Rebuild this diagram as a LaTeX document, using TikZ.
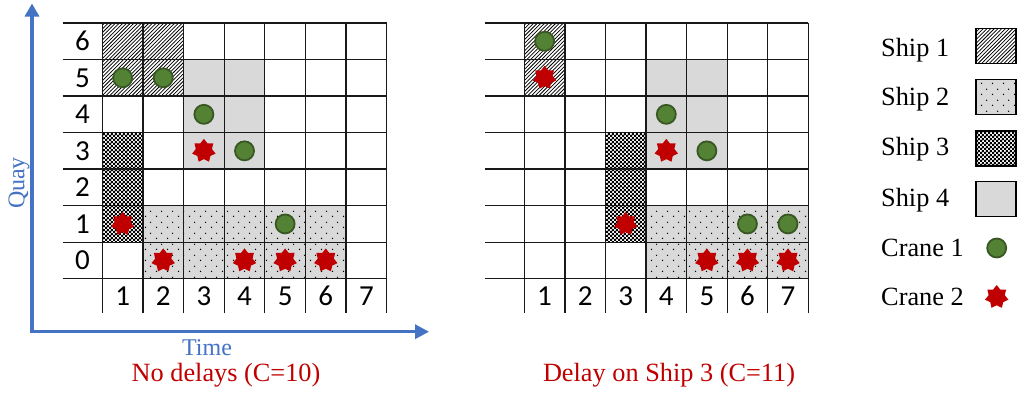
\documentclass[tikz,border=0pt]{standalone}
\usepackage{fontspec}
\setmainfont{Liberation Serif}
\newfontfamily\digitfont{Carlito}
\usetikzlibrary{patterns,arrows.meta,shapes.geometric}

\definecolor{axisblue}{HTML}{4472C4}
\definecolor{capred}{HTML}{C00000}
\definecolor{shipgray}{HTML}{D9D9D9}
\definecolor{cranegreen}{HTML}{548235}
\definecolor{cranegreendark}{HTML}{385723}
\definecolor{cranered}{HTML}{C00000}

% Ship 1: fine diagonal hatching
\pgfdeclarepatternformonly{hatchlines}{\pgfqpoint{-1pt}{-1pt}}{\pgfqpoint{4.8pt}{4.8pt}}{\pgfqpoint{3.7pt}{3.7pt}}{%
  \pgfsetlinewidth{0.75pt}%
  \pgfpathmoveto{\pgfqpoint{-0.1pt}{-0.1pt}}\pgfpathlineto{\pgfqpoint{3.8pt}{3.8pt}}\pgfusepath{stroke}}
% Ship 2: staggered dots
\pgfdeclarepatternformonly{shipdots}{\pgfqpoint{0pt}{0pt}}{\pgfqpoint{11pt}{11pt}}{\pgfqpoint{11pt}{11pt}}{%
  \pgfpathcircle{\pgfqpoint{2.75pt}{2.75pt}}{0.8pt}%
  \pgfpathcircle{\pgfqpoint{8.25pt}{8.25pt}}{0.8pt}\pgfusepath{fill}}
% Ship 3: small checkerboard
\pgfdeclarepatternformonly{checker}{\pgfqpoint{0pt}{0pt}}{\pgfqpoint{4.4pt}{4.4pt}}{\pgfqpoint{4.4pt}{4.4pt}}{%
  \pgfpathrectangle{\pgfqpoint{0pt}{0pt}}{\pgfqpoint{2.3pt}{2.3pt}}%
  \pgfpathrectangle{\pgfqpoint{2.2pt}{2.2pt}}{\pgfqpoint{2.3pt}{2.3pt}}\pgfusepath{fill}}

\tikzset{
  gridline/.style={line width=1.3pt, black!90},
  shipA/.style={fill=white, postaction={pattern=hatchlines}},
  shipB/.style={fill=shipgray, postaction={pattern=shipdots}},
  shipC/.style={fill=white, postaction={pattern=checker}},
  shipD/.style={fill=shipgray},
  craneA/.style={circle, fill=cranegreen, draw=cranegreendark, line width=1.8pt,
    minimum size=19pt, inner sep=0pt},
  craneB/.style={star, star points=7, star point ratio=1.45, fill=cranered,
    minimum size=24pt, inner sep=0pt},
  digit/.style={font=\digitfont\fontsize{29}{32}\selectfont, inner sep=0pt},
  axisline/.style={line width=3.2pt, axisblue, line join=miter,
    {Triangle[length=13pt,width=14pt]}-{Triangle[length=14pt,width=14pt]}},
  axislabel/.style={text=axisblue, font=\fontsize{24}{28}\selectfont, inner sep=0pt},
  caption/.style={text=capred, font=\fontsize{26.3}{30}\selectfont, inner sep=0pt},
  legtext/.style={font=\fontsize{26.3}{30}\selectfont, inner sep=0pt, anchor=base west},
  legbox/.style={draw=black, line width=1.4pt, minimum width=40pt, minimum height=35pt, inner sep=0pt},
}

\begin{document}
\begin{tikzpicture}[x=1pt, y=-1pt]
\useasboundingbox[fill=white] (0,0) rectangle (1017,394);

% ---- axes ----
\coordinate (origin) at (32,331.7);
\coordinate (quaytip) at (32,3.5);
\coordinate (timetip) at (429,331.7);
\draw[axisline] (quaytip) -- (origin) -- (timetip);
\node[axislabel, rotate=90] (quaylbl) at (19,183) {Quay};
\node[axislabel] (timelbl) at (207,347.5) {Time};

% ---- schedule without delays ----
\begin{scope}[shift={(102.3,23)}, x=40.63pt, y=-36.53pt]
  \path[shipA] (0,0) rectangle (2,2);
  \path[shipD] (2,1) rectangle (4,4);
  \path[shipC] (0,3) rectangle (1,6);
  \path[shipB] (1,5) rectangle (6,7);
  \foreach \k in {0,...,7} \draw[gridline] (-0.975,\k) -- (7,\k);
  \foreach \j in {0,...,7} \draw[gridline] (\j,0) -- (\j,7.93);
  \foreach \r in {0,...,6} \node[digit] (L-row\r) at (-0.4875,6.5-\r) {\r};
  \foreach \c in {1,...,7} \node[digit] (L-col\c) at (\c-0.5,7.47) {\c};
  \foreach \c/\r [count=\n] in {1/5,2/5,3/4,4/3,5/1}
    \node[craneA] (L-a\n) at (\c-0.5,6.5-\r) {};
  \foreach \c/\r [count=\n] in {3/3,1/1,2/0,4/0,5/0,6/0}
    \node[craneB] (L-b\n) at (\c-0.5,6.5-\r) {};
\end{scope}
\node[caption] (cap-left) at (226,375.5) {No delays (C=10)};

% ---- schedule with a delay on ship 3 ----
\begin{scope}[shift={(524.3,23)}, x=40.57pt, y=-36.53pt]
  \path[shipA] (0,0) rectangle (1,2);
  \path[shipD] (3,1) rectangle (5,4);
  \path[shipC] (2,3) rectangle (3,6);
  \path[shipB] (3,5) rectangle (7,7);
  \foreach \k in {0,...,7} \draw[gridline] (-0.97,\k) -- (7,\k);
  \foreach \j in {0,...,7} \draw[gridline] (\j,0) -- (\j,7.93);
  \foreach \c in {1,...,7} \node[digit] (R-col\c) at (\c-0.5,7.47) {\c};
  \foreach \c/\r [count=\n] in {1/6,4/4,5/3,6/1,7/1}
    \node[craneA] (R-a\n) at (\c-0.5,6.5-\r) {};
  \foreach \c/\r [count=\n] in {1/5,4/3,3/1,5/0,6/0,7/0}
    \node[craneB] (R-b\n) at (\c-0.5,6.5-\r) {};
\end{scope}
\node[caption] (cap-right) at (669,375.5) {Delay on Ship 3 (C=11)};

% ---- legend ----
\node[legtext] (leg1) at (881,56.7) {Ship 1};
\node[legtext] (leg2) at (881,105.5) {Ship 2};
\node[legtext] (leg3) at (881,155.5) {Ship 3};
\node[legtext] (leg4) at (881,206.7) {Ship 4};
\node[legtext] (leg5) at (881,256.7) {Crane 1};
\node[legtext] (leg6) at (881,305.5) {Crane 2};
\node[legbox, shipA] (key1) at (996,45.8) {};
\node[legbox, shipB] (key2) at (996,96.8) {};
\node[legbox, shipC] (key3) at (996,148.3) {};
\node[legbox, shipD] (key4) at (996,199) {};
\node[craneA] (key5) at (996.7,248) {};
\node[craneB] (key6) at (996.7,297) {};
\end{tikzpicture}
\end{document}
